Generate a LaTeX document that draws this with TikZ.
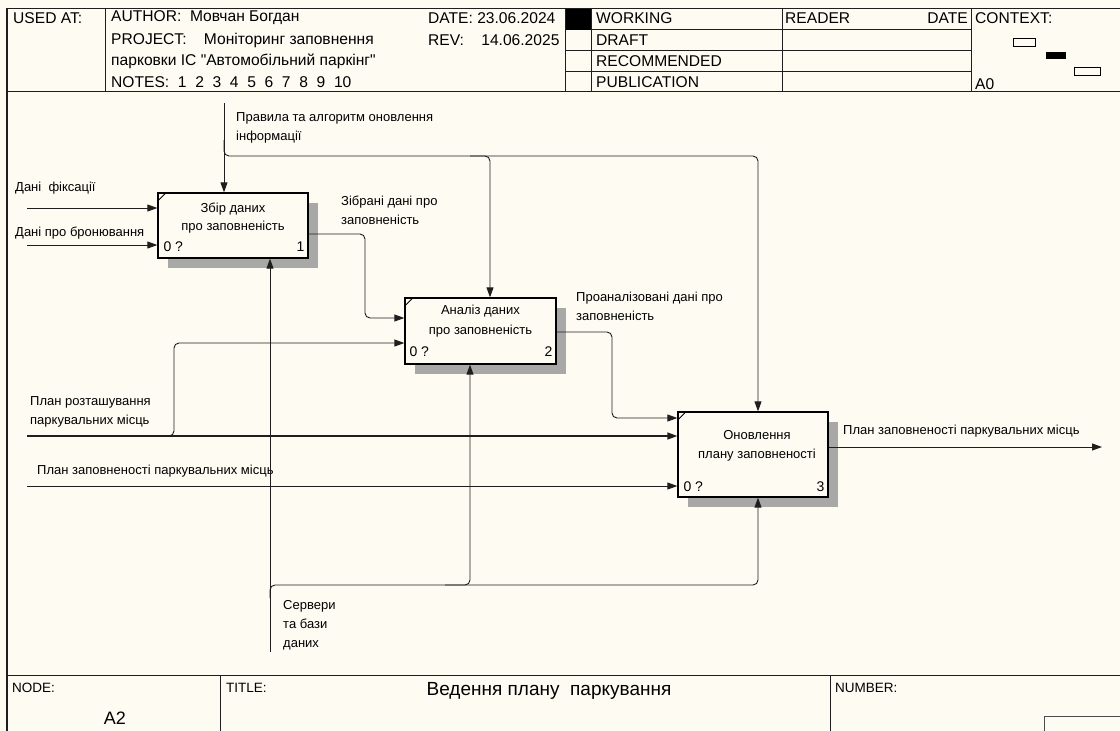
\documentclass[tikz,border=0pt]{standalone}
\usepackage{fontspec}
\setmainfont{Liberation Sans}[Ligatures=TeXOff]
\usetikzlibrary{arrows.meta,shadows,calc}
\definecolor{paper}{RGB}{253,251,242}
\definecolor{shade}{RGB}{168,168,166}
\definecolor{ink}{RGB}{30,30,30}

\begin{document}
\begin{tikzpicture}[x=1pt,y=-1pt,
  rule/.style={line width=0.9pt, draw=ink},
  hdr/.style={font=\fontsize{15.6}{17}\selectfont, anchor=west, inner sep=0},
  foot/.style={font=\fontsize{13.5}{16}\selectfont, anchor=west, inner sep=0},
  lbl/.style={font=\fontsize{13}{19}\selectfont, anchor=north west, inner sep=0, align=left},
  box/.style={draw=black, line width=1.3pt, fill=paper, inner sep=0,
    drop shadow={shadow xshift=10pt, shadow yshift=-10pt, opacity=1, fill=shade, draw=none}},
  boxtext/.style={font=\fontsize{13}{19}\selectfont, align=center, anchor=north, inner sep=0},
  corner/.style={font=\fontsize{14}{16}\selectfont, inner sep=0},
  flow/.style={line width=0.9pt, draw=ink, rounded corners=5pt},
  arr/.style={flow, -{Triangle[length=10pt,width=7pt]}},
]
% paper and bounding box
\fill[paper] (0,0) rectangle (1120,731);
\useasboundingbox (0,0) rectangle (1120,731);

% ---------- frame ----------
\draw[line width=2pt, draw=ink] (7,8) -- (7,731);
\draw[rule] (7,8) -- (1120,8);
\draw[rule] (7,91) -- (1120,91);
\draw[rule] (105,8) -- (105,91);
\draw[rule] (565,8) -- (565,91);
\draw[rule] (591,8) -- (591,91);
\draw[rule] (782,8) -- (782,91);
\draw[rule] (971,8) -- (971,91);
\foreach \yy in {29.5,50.5,71.5} \draw[rule] (565,\yy) -- (971,\yy);
\fill[black] (566,9) rectangle (591,29.5);

% header texts
\node[hdr] (usedat) at (13,18) {USED AT:};
\node[hdr] (author) at (111,18) {AUTHOR:\ \ Мовчан Богдан};
\node[hdr] (project) at (111,40) {PROJECT:\ \ \ \ Моніторинг заповнення};
\node[hdr] (project2) at (111,61) {парковки ІС "Автомобільний паркінг"};
\node[hdr] (notes) at (111,82) {NOTES:\ \ 1\ \ 2\ \ 3\ \ 4\ \ 5\ \ 6\ \ 7\ \ 8\ \ 9\ \ 10};
\node[hdr] (date) at (428,18) {DATE: 23.06.2024};
\node[hdr] (rev) at (428,40) {REV:\ \ \ \ 14.06.2025};
\node[hdr] (working) at (596,18) {WORKING};
\node[hdr] (draft) at (596,40) {DRAFT};
\node[hdr] (recom) at (596,61) {RECOMMENDED};
\node[hdr] (publ) at (596,82) {PUBLICATION};
\node[hdr] (reader) at (785,18) {READER};
\node[hdr, anchor=east] (rdate) at (968,18) {DATE};
\node[hdr] (context) at (975,18) {CONTEXT:};
\node[hdr] (ctxnode) at (975,84) {A0};
\draw[line width=0.8pt] (1013,38) rectangle (1035,46);
\fill[black] (1046,52) rectangle (1066,59);
\draw[line width=0.8pt] (1074,67) rectangle (1100,75);

% footer
\draw[rule] (7,675) -- (1120,675);
\draw[rule] (220,675) -- (220,731);
\draw[rule] (830,675) -- (830,731);
\draw[line width=0.7pt, draw=black!70] (1044,731) -- (1044,716) -- (1120,716);
\node[foot] (nodelbl) at (12,688) {NODE:};
\node[foot] (titlelbl) at (226,688) {TITLE:};
\node[foot] (numlbl) at (835,688) {NUMBER:};
\node[font=\fontsize{19}{22}\selectfont, inner sep=0] (title) at (549,691) {Ведення плану\ \ паркування};
\node[font=\fontsize{18}{20}\selectfont, inner sep=0] (nodeid) at (115,718) {A2};

% ---------- activity boxes ----------
\node[box, minimum width=150pt, minimum height=65pt] (b1) at (233,225.5) {};
\node[box, minimum width=151pt, minimum height=66pt] (b2) at (480.5,331) {};
\node[box, minimum width=150pt, minimum height=85pt] (b3) at (753,454.5) {};

\foreach \b in {b1,b2,b3}
  \draw[line width=0.9pt] ($(\b.north west)+(0,9)$) -- ($(\b.north west)+(9,0)$);

\node[boxtext, font=\fontsize{13}{18}\selectfont] (t1) at ($(b1.north)+(0,10)$) {Збір даних\\про заповненість};
\node[boxtext, font=\fontsize{13}{20}\selectfont] (t2) at ($(b2.north)+(0,8)$) {Аналіз даних\\про заповненість};
\node[boxtext] (t3) at ($(b3.north)+(4,19)$) {Оновлення\\плану заповненості};

\node[corner, anchor=base west] (q1) at ($(b1.south west)+(6,-7)$) {0 ?};
\node[corner, anchor=base east] (n1) at ($(b1.south east)+(-4,-7)$) {1};
\node[corner, anchor=base west] (q2) at ($(b2.south west)+(5,-8)$) {0 ?};
\node[corner, anchor=base east] (n2) at ($(b2.south east)+(-4,-8)$) {2};
\node[corner, anchor=base west] (q3) at ($(b3.south west)+(6,-6)$) {0 ?};
\node[corner, anchor=base east] (n3) at ($(b3.south east)+(-4,-6)$) {3};

% ---------- inputs ----------
\coordinate (fixIn) at (27,208);
\coordinate (bronIn) at (27,245);
\coordinate (planIn) at (27,436);
\coordinate (fillIn) at (27,486);
\draw[arr] (fixIn) -- (fixIn -| b1.west);
\draw[arr] (bronIn) -- (bronIn -| b1.west);
\draw[arr, line width=1.5pt] (planIn) -- (planIn -| b3.west);
\draw[arr] (fillIn) -- (fillIn -| b3.west);
\coordinate (kb) at (160,436);
\coordinate (k) at (174,343);
\draw[arr] (kb) -| (k) -- (k -| b2.west);

\node[lbl] (lfix) at (15,182) {Дані\ \ фіксації};
\node[lbl] (lbron) at (15,227) {Дані про бронювання};
\node[lbl] (lplan) at (30,396) {План розташування\\паркувальних місць};
\node[lbl] (lfill) at (37,465) {План заповненості паркувальних місць};

% ---------- controls ----------
\coordinate (ctrlTop) at (224,103);
\coordinate (ctrlBend) at (224,140);
\coordinate (c3) at (758,156);
\coordinate (c2) at (490,156);
\coordinate (c2s) at (470,156);
\draw[arr] (ctrlTop) -- (ctrlTop |- b1.north);
\draw[arr] (ctrlBend) |- (c3) -- (c3 |- b3.north);
\draw[arr] (c2s) -| (c2 |- b2.north);
\node[lbl] (lctrl) at (236,112) {Правила та алгоритм оновлення\\інформації};

% ---------- outputs ----------
\coordinate (o1) at (365,234);
\coordinate (j1) at (365,318);
\draw[arr] (o1 -| b1.east) -- (o1) |- (j1 -| b2.west);
\node[lbl] (lout1) at (341,196) {Зібрані дані про\\заповненість};

\coordinate (o2) at (612,332);
\coordinate (j2) at (612,418);
\draw[arr] (o2 -| b2.east) -- (o2) |- (j2 -| b3.west);
\node[lbl] (lout2) at (576,292) {Проаналізовані дані про\\заповненість};

\coordinate (outEnd) at (1102,447);
\draw[arr] (outEnd -| b3.east) -- (outEnd);
\node[lbl] (lout3) at (843,425) {План заповненості паркувальних місць};

% ---------- mechanisms ----------
\coordinate (mechBot) at (270,652);
\coordinate (mechBend) at (270,598);
\coordinate (m3) at (758,585);
\coordinate (m2) at (470,585);
\coordinate (m2s) at (445,585);
\draw[arr] (mechBot) -- (mechBot |- b1.south);
\draw[arr] (mechBend) |- (m3) -- (m3 |- b3.south);
\draw[arr] (m2s) -| (m2 |- b2.south);
\node[lbl] (lmech) at (283,600) {Сервери\\та бази\\даних};
\end{tikzpicture}
\end{document}
